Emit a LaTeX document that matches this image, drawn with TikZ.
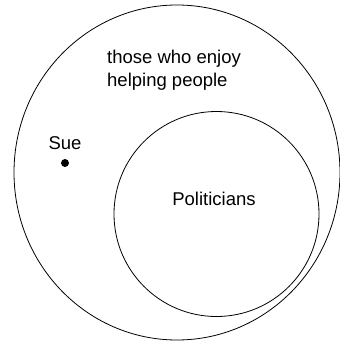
\documentclass[tikz,border=0pt]{standalone}
\usepackage{fontspec}
\setmainfont{Liberation Sans}
\usetikzlibrary{positioning}

\begin{document}
\begin{tikzpicture}[
  x=1pt, y=-1pt,
  set/.style={draw, line width=0.8pt},
  label/.style={font=\fontsize{18.5}{23}\selectfont, inner sep=0pt, align=left},
  member/.style={circle, fill, inner sep=0pt, minimum size=8pt}
]
\useasboundingbox (0,0) rectangle (340,341);
\draw[set] (177,172.5) ellipse [x radius=163, y radius=167.5];
\node[set, circle, minimum size=205pt, inner sep=0pt] (politicians) at (216.5,214) {};
\node[label, anchor=north west] (enjoy) at (107,50) {those who enjoy\\helping people};
\node[label] (politext) at (214,199) {Politicians};
\node[member] (sue) at (65,163) {};
\node[label, above=9pt of sue] (suetext) {Sue};
\end{tikzpicture}
\end{document}
